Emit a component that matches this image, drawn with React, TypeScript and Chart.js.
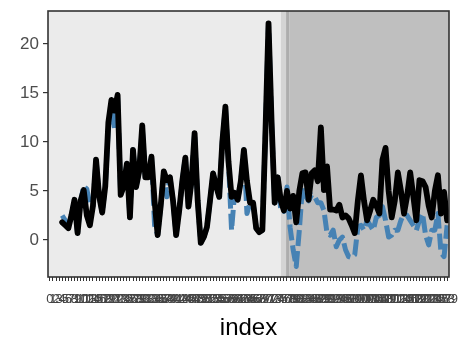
import React, { useEffect, useRef } from "react";
import { Chart, registerables } from "chart.js";

Chart.register(...registerables);

// x categories: index positions 0..129
const xLabels: string[] = Array.from({ length: 130 }, (_, i) => String(i));
const yTicks: number[] = [0, 5, 10, 15, 20];

// observed series (black)
const observed: (number | null)[] = [
  null, null, null, null, 1.8, 1.5, 1.2, 2.5, 4.1, 0.7,
  4.0, 5.1, 2.5, 1.5, 3.5, 8.2, 4.5, 2.8, 5.5, 12.0,
  14.3, 13.2, 14.8, 4.6, 5.5, 7.8, 2.3, 9.2, 5.4, 7.0,
  11.7, 6.4, 6.4, 8.5, 4.0, 0.5, 3.5, 7.0, 6.1, 6.4,
  4.0, 0.5, 3.0, 6.0, 8.4, 3.4, 6.0, 10.9, 4.0, -0.3,
  0.3, 1.3, 4.0, 6.8, 5.5, 4.4, 10.0, 13.6, 8.0, 4.4,
  4.8, 4.1, 6.0, 9.2, 6.0, 3.8, 3.8, 1.2, 0.8, 1.0,
  11.0, 22.1, 12.0, 3.8, 6.4, 4.0, 3.0, 5.0, 3.2, 4.5,
  1.8, 5.0, 6.8, 6.9, 4.1, 6.8, 7.1, 6.0, 11.5, 5.1,
  7.5, 3.1, 3.1, 3.0, 3.6, 2.3, 2.5, 2.2, 1.5, 0.7,
  4.0, 6.6, 4.0, 2.0, 3.0, 4.1, 3.5, 2.7, 8.2, 9.4,
  5.0, 2.3, 4.0, 6.9, 5.0, 2.7, 4.5, 6.9, 4.5, 2.0,
  6.1, 6.0, 5.4, 3.5, 2.3, 5.0, 6.6, 2.7, 4.9, 2.0,
];

// predicted series (blue dashed)
const predicted: (number | null)[] = [
  null, null, null, null, 2.5, 2.0, 1.2, 2.5, 4.1, 0.7,
  4.0, 5.5, 5.2, 3.6, 3.5, 8.2, 4.5, 2.8, 5.5, 11.5,
  13.5, 11.3, 14.5, 4.6, 5.5, 7.8, 2.3, 9.2, 5.4, 7.0,
  11.5, 6.4, 6.4, 8.5, 1.5, 0.5, 3.5, 7.0, 4.4, 6.4,
  4.0, 0.5, 3.0, 6.0, 8.5, 3.4, 6.0, 10.9, 4.0, -0.3,
  0.3, 1.3, 4.0, 6.8, 5.5, 4.4, 10.0, 13.6, 8.0, 1.0,
  4.8, 4.1, 6.0, 9.2, 2.7, 3.8, 3.8, 1.2, 0.8, 1.0,
  11.0, 22.1, 12.0, 3.8, 6.4, 3.0, 2.9, 5.4, 1.3, -1.0,
  -2.7, 1.0, 5.3, 4.5, 4.0, 4.6, 4.4, 3.8, 3.8, 3.0,
  0.7, 0.5, 1.0, -0.7, 0.0, 0.3, -1.0, -1.7, -1.8, -1.5,
  1.3, 1.5, 1.0, 2.0, 1.5, 1.0, 2.3, 2.5, 3.4, 2.0,
  0.3, 0.5, 1.0, 1.0, 2.0, 2.7, 2.5, 2.0, 1.5, 1.0,
  2.0, 2.7, 0.5, -0.5, 1.0, 1.0, 2.7, -1.3, -1.7, 1.5,
];

// shaded period boundaries (index units): training period, transition, test period
const periodEdges: number[] = [-0.6, 75.0, 76.7, 77.7, 129.6];

const FONT = "'Liberation Sans', Arial, Helvetica, sans-serif";
const bandColors = ["#ebebeb", "#d4d4d4", "#adadad", "#bfbfbf"];

const panelPlugin = {
  id: "panel",
  beforeDatasetsDraw(chart: any) {
    const { ctx, chartArea, scales } = chart;
    const xs = scales.x;
    ctx.save();
    for (let k = 0; k < periodEdges.length - 1; k++) {
      const a = Math.max(chartArea.left, xs.getPixelForValue(periodEdges[k]));
      const b = Math.min(chartArea.right, xs.getPixelForValue(periodEdges[k + 1]));
      ctx.fillStyle = bandColors[k];
      ctx.fillRect(a, chartArea.top, b - a, chartArea.bottom - chartArea.top);
    }
    ctx.restore();
  },
  afterDatasetsDraw(chart: any) {
    const { ctx, chartArea } = chart;
    ctx.save();
    ctx.strokeStyle = "#333333";
    ctx.lineWidth = 1.6;
    ctx.strokeRect(
      chartArea.left,
      chartArea.top,
      chartArea.right - chartArea.left,
      chartArea.bottom - chartArea.top
    );
    ctx.restore();
  },
};

export default function App() {
  const ref = useRef<HTMLCanvasElement | null>(null);

  useEffect(() => {
    if (!ref.current) return;
    const chart = new Chart(ref.current, {
      type: "line",
      data: {
        datasets: [
          {
            label: "observed",
            data: observed.map((v, i) => ({ x: i, y: v })) as any,
            borderColor: "#000000",
            borderWidth: 5.8,
            borderJoinStyle: "round",
            borderCapStyle: "round",
            pointRadius: 0,
            tension: 0,
            fill: false,
          },
          {
            label: "predicted",
            data: predicted.map((v, i) => ({ x: i, y: v })) as any,
            borderColor: "#4682b4",
            borderWidth: 5,
            borderDash: [16, 5],
            borderJoinStyle: "round",
            borderCapStyle: "butt",
            pointRadius: 0,
            tension: 0,
            fill: false,
          },
        ],
      },
      options: {
        animation: false,
        responsive: false,
        devicePixelRatio: 1,
        layout: { padding: { left: 0, right: 10, top: 11, bottom: 0 } },
        plugins: {
          legend: { display: false },
          tooltip: { enabled: false },
        },
        scales: {
          x: {
            type: "linear",
            min: -0.6,
            max: xLabels.length - 1 + 0.6,
            afterBuildTicks: (s: any) => {
              s.ticks = xLabels.map((_, i) => ({ value: i }));
            },
            afterFit: (s: any) => {
              s.height = 64;
              s.paddingLeft = 0;
              s.paddingRight = 0;
            },
            ticks: {
              autoSkip: false,
              maxRotation: 0,
              minRotation: 0,
              color: "#444444",
              padding: 11,
              font: { family: FONT, size: 13 },
              callback: (v: any) => xLabels[Math.round(Number(v))],
            },
            grid: {
              display: true,
              drawOnChartArea: false,
              drawTicks: true,
              tickLength: 4,
              color: "#333333",
              lineWidth: 1,
            },
            border: { display: false },
            title: {
              display: true,
              text: "index",
              color: "#000000",
              font: { family: FONT, size: 24 },
              padding: { top: 0, bottom: -2 },
            },
          },
          y: {
            type: "linear",
            min: -3.78,
            max: 23.37,
            afterBuildTicks: (s: any) => {
              s.ticks = yTicks.map((v) => ({ value: v }));
            },
            afterFit: (s: any) => {
              s.width = 48;
              s.paddingTop = 0;
              s.paddingBottom = 0;
            },
            ticks: {
              color: "#4d4d4d",
              padding: 4,
              font: { family: FONT, size: 17 },
            },
            grid: {
              display: true,
              drawOnChartArea: false,
              drawTicks: true,
              tickLength: 5,
              color: "#333333",
              lineWidth: 1.2,
            },
            border: { display: false },
          },
        },
      },
      plugins: [panelPlugin],
    });
    return () => chart.destroy();
  }, []);

  return (
    <div
      style={{
        position: "fixed",
        left: 0,
        top: 0,
        width: 459,
        height: 341,
        background: "#ffffff",
      }}
    >
      <canvas ref={ref} width={459} height={341} style={{ width: 459, height: 341 }} />
    </div>
  );
}
